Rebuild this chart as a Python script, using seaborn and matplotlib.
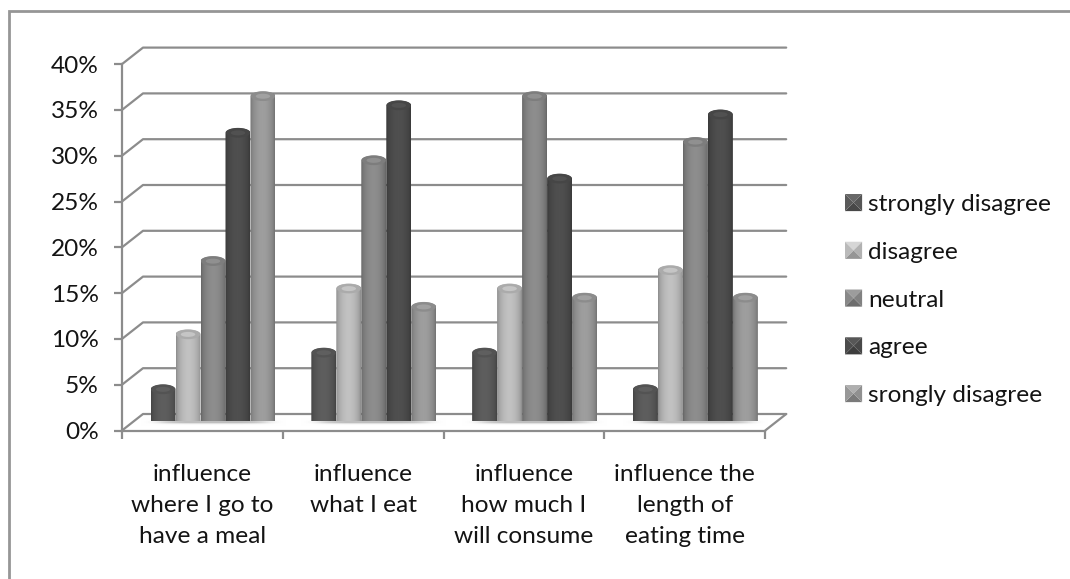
import numpy as np
import pandas as pd
import matplotlib
matplotlib.use("Agg")
import matplotlib.pyplot as plt
import seaborn as sns
from matplotlib.colors import to_rgb, LinearSegmentedColormap
from matplotlib.legend_handler import HandlerBase
from matplotlib.patches import Ellipse, Patch, Polygon
from matplotlib.path import Path
from matplotlib.lines import Line2D

# Survey results, percent of respondents
categories = ["influence\nwhere I go to\nhave a meal", "influence\nwhat I eat",
              "influence\nhow much I\nwill consume", "influence the\nlength of\neating time"]
responses = ["strongly disagree", "disagree", "neutral", "agree", "srongly disagree"]
strongly_disagree = [4, 8, 8, 4]
disagree = [10, 15, 15, 17]
neutral = [18, 29, 36, 31]
agree = [32, 35, 27, 34]
srongly_disagree = [36, 13, 14, 14]
shades = ["#5a5a5a", "#bababa", "#888888", "#4c4c4c", "#989898"]
y_ticks = [0, 5, 10, 15, 20, 25, 30, 35, 40]

W, H = 1070, 579
LINE = "#8c8c8c"
TEXT = "#141414"
FS = 17.6

sns.set_theme(style="white")
plt.rcParams["font.family"] = ["Lato", "DejaVu Sans"]

df = pd.DataFrame({
    "category": np.repeat(categories, len(responses)),
    "response": responses * len(categories),
    "share": np.array([strongly_disagree, disagree, neutral, agree, srongly_disagree]).T.ravel(),
})

fig = plt.figure(figsize=(W / 100, H / 100), dpi=100, facecolor="white")


def axes_px(left, right, bottom, top):
    """Axes rectangle from pixel edges measured from the top-left corner."""
    return fig.add_axes([left / W, 1 - bottom / H, (right - left) / W, (bottom - top) / H])


PX_PER_UNIT_Y = 9.16
PX_PER_CAT = 160.8
XLIM = (-0.5, 3.5)
YLIM = (0, 40)

# Chart area border: only the top and left edges show
fig.add_artist(Line2D([9 / W, 9 / W, 1], [0, 1 - 11 / H, 1 - 11 / H], color="#969696", lw=2.0,
                      transform=fig.transFigure, solid_joinstyle="miter"))

# Front plane carrying the axes, ticks and labels
front = axes_px(122, 765.2, 430.5, 430.5 - 40 * PX_PER_UNIT_Y)
front.set_xlim(*XLIM)
front.set_ylim(*YLIM)
front.patch.set_visible(False)
sns.despine(ax=front, top=True, right=True)
for side in ("left", "bottom"):
    front.spines[side].set_color(LINE)
    front.spines[side].set_linewidth(1.6)
front.set_yticks(y_ticks)
front.set_yticklabels([f"{v}%" for v in y_ticks], fontsize=FS, color=TEXT)
front.tick_params(axis="y", left=True, length=5.8, width=1.6, color=LINE, pad=11)
front.set_xticks(range(4))
front.set_xticklabels(categories, fontsize=FS, color=TEXT, linespacing=1.6)
front.set_xticks(np.arange(-0.5, 4), minor=True)
front.tick_params(axis="x", which="major", bottom=False, length=0, pad=24)
front.tick_params(axis="x", which="minor", bottom=True, length=5.8, width=1.6, color=LINE)

# Depth offset between the front plane and the back wall
dx = 21 / PX_PER_CAT
dy = 16.5 / PX_PER_UNIT_Y
line_kw = dict(color=LINE, lw=1.6, clip_on=False, solid_capstyle="round")
for v in y_ticks:
    front.plot([XLIM[0], XLIM[0] + dx, XLIM[1] + dx], [v, v + dy, v + dy], **line_kw)
front.plot([XLIM[1], XLIM[1] + dx], [0, dy], **line_kw)

# Cylinder bars sit mid-way between the two planes
ax = axes_px(132.6, 775.8, 421, 421 - 40 * PX_PER_UNIT_Y)
ax.patch.set_visible(False)
sns.barplot(data=df, x="category", y="share", hue="response", hue_order=responses,
            order=categories, palette=shades, width=0.777, gap=0, saturation=1,
            legend=False, ax=ax)
ax.set_xlim(*XLIM)
ax.set_ylim(*YLIM)
ax.axis("off")

# Soft contact shadow on the floor, just past each group's outer bars
shadow_cmap = LinearSegmentedColormap.from_list("s", ["#ffffff00", "#b4b4b4"])
for i in range(4):
    xx = np.linspace(-1, 1, 80)
    yy = np.linspace(-1, 1, 20)
    g = np.exp(-(xx[None, :] ** 6) * 2.5) * np.exp(-(yy[:, None] ** 2) * 3)
    ax.imshow(g, extent=(i - 0.45, i + 0.45, -0.55, 0.25), cmap=shadow_cmap, aspect="auto",
              zorder=0.5, clip_on=False, vmin=0, vmax=1)

# Horizontal shading profile across a cylinder
t = np.linspace(0, 1, 64)
profile = 0.74 + 0.30 * np.sin(np.pi * t) ** 0.6

ry_top = 5.0 / PX_PER_UNIT_Y
ry_bot = 4.0 / PX_PER_UNIT_Y
theta = np.linspace(0, np.pi, 40)

for patch in list(ax.patches):
    x0, w, v = patch.get_x(), patch.get_width(), patch.get_height()
    base = np.array(to_rgb(patch.get_facecolor()))
    patch.set_visible(False)
    if v <= 0:
        continue
    xc = x0 + w / 2
    img = np.clip(base[None, None, :] * profile[None, :, None], 0, 1)
    im = ax.imshow(img, extent=(x0, x0 + w, -ry_bot, v), aspect="auto", zorder=3, clip_on=True,
                   interpolation="bilinear")
    # Outline: domed top, rounded foot
    top = np.column_stack([xc + w / 2 * np.cos(theta), v - ry_top + ry_top * np.sin(theta)])
    bot = np.column_stack([xc - w / 2 * np.cos(theta), -ry_bot * np.sin(theta)])
    outline = Path(np.vstack([top, bot, top[:1]]))
    im.set_clip_path(outline, transform=ax.transData)
    ax.add_patch(Ellipse((xc, v - ry_top), w * 0.96, 2 * ry_top * 0.96,
                         fc=np.clip(base * 0.92, 0, 1), ec="none", zorder=4))
    ax.add_patch(Ellipse((xc, v - ry_top), w * 0.58, 2 * ry_top * 0.5,
                         fc=np.clip(base * 1.06, 0, 1), ec="none", zorder=5))
ax.set_xlim(*XLIM)
ax.set_ylim(*YLIM)


class BevelHandler(HandlerBase):
    """Legend key shaped like a bevelled square: four shaded triangles."""

    def create_artists(self, legend, orig, xd, yd, width, height, fontsize, trans):
        c = np.array(to_rgb(orig.get_facecolor()))
        x0, y0 = -xd, -yd
        x1, y1 = x0 + width, y0 + height
        mx, my = (x0 + x1) / 2, (y0 + y1) / 2
        tris = [([(x0, y1), (x1, y1), (mx, my)], 1.15),
                ([(x0, y0), (x1, y0), (mx, my)], 0.8),
                ([(x0, y0), (x0, y1), (mx, my)], 1.0),
                ([(x1, y0), (x1, y1), (mx, my)], 0.95)]
        return [Polygon(p, closed=True, fc=np.clip(c * k, 0, 1), ec="none", transform=trans)
                for p, k in tris]


handles = [Patch(facecolor=c, label=r) for c, r in zip(shades, responses)]
fig.legend(handles=handles, loc="upper left", bbox_to_anchor=(845 / W, 1 - 194 / H),
           frameon=False, fontsize=FS, labelcolor=TEXT, borderpad=0, borderaxespad=0,
           handlelength=0.7, handleheight=0.7, handletextpad=0.25, labelspacing=1.09,
           handler_map={Patch: BevelHandler()})

fig.savefig("out.png", dpi=100, facecolor="white")
